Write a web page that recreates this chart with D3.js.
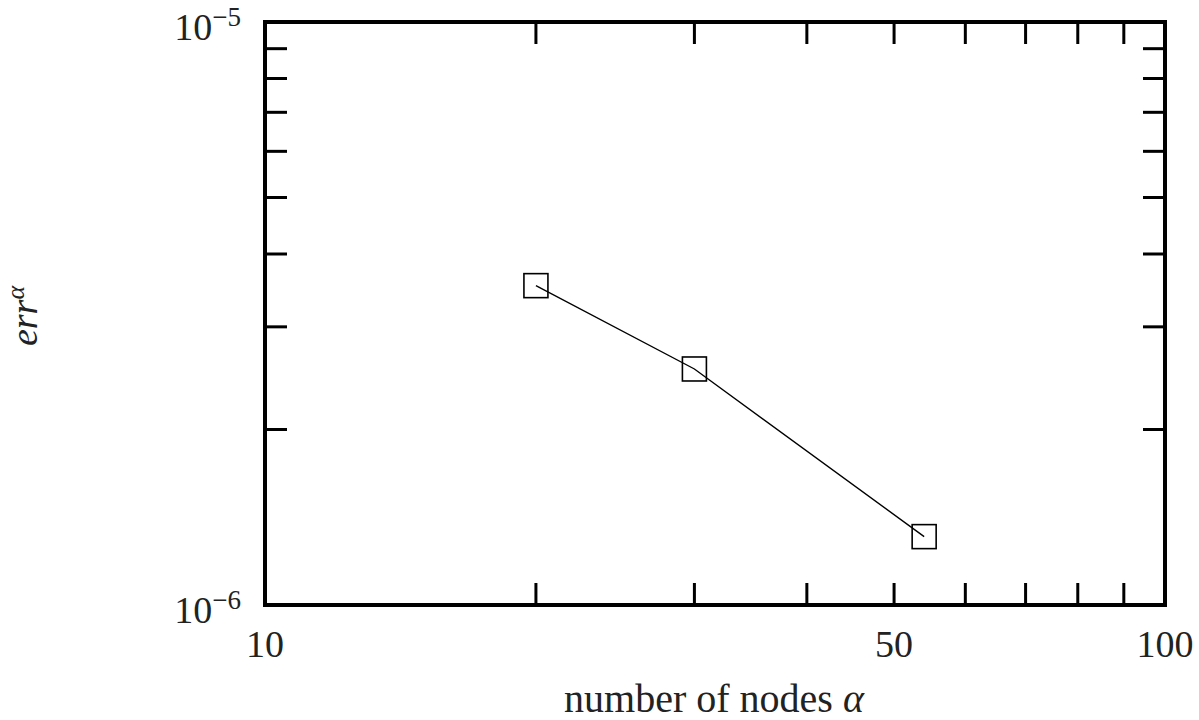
<!DOCTYPE html>
<html>
<head>
<meta charset="utf-8">
<script src="https://cdn.jsdelivr.net/npm/d3@7"></script>
<style>
  body { margin: 0; background: #fff; }
  text { font-family: "Liberation Serif", "DejaVu Serif", serif; fill: #222; }
</style>
</head>
<body>
<div id="chart"></div>
<script>
// data
var nodes = [20, 30, 54];
var errs = [3.53e-6, 2.54e-6, 1.31e-6];
var xMinor = [20, 30, 40, 50, 60, 70, 80, 90];
var yMinor = [2e-6, 3e-6, 4e-6, 5e-6, 6e-6, 7e-6, 8e-6, 9e-6];
var xLabels = [10, 50, 100];
var yLabels = [{v: 1e-6, e: "\u22126"}, {v: 1e-5, e: "\u22125"}];

function errChart() {
	var width = 1199, height = 720;
	var pLeft = 265, pRight = 1165, pTop = 22, pBottom = 605;
	var tick = 22;

	var svg = d3.select("#chart").append("svg")
		.attr("width", width)
		.attr("height", height);

	var x = d3.scaleLog().domain([10, 100]).range([pLeft, pRight]);
	var y = d3.scaleLog().domain([1e-6, 1e-5]).range([pBottom, pTop]);

	// ticks, inward on all four sides
	var tk = svg.append("g").attr("stroke", "#000").attr("stroke-width", 3);
	xMinor.forEach(function(v) {
		tk.append("line").attr("x1", x(v)).attr("x2", x(v)).attr("y1", pBottom).attr("y2", pBottom - tick);
		tk.append("line").attr("x1", x(v)).attr("x2", x(v)).attr("y1", pTop).attr("y2", pTop + tick);
	});
	yMinor.forEach(function(v) {
		tk.append("line").attr("y1", y(v)).attr("y2", y(v)).attr("x1", pLeft).attr("x2", pLeft + tick);
		tk.append("line").attr("y1", y(v)).attr("y2", y(v)).attr("x1", pRight).attr("x2", pRight - tick);
	});

	// frame
	svg.append("rect")
		.attr("x", pLeft).attr("y", pTop)
		.attr("width", pRight - pLeft).attr("height", pBottom - pTop)
		.attr("fill", "none").attr("stroke", "#000").attr("stroke-width", 4);

	// tick labels
	svg.selectAll(".xl").data(xLabels).enter().append("text")
		.attr("x", function(d) { return x(d); })
		.attr("y", pBottom + 52)
		.attr("text-anchor", "middle")
		.attr("font-size", 38)
		.text(function(d) { return d; });

	yLabels.forEach(function(d) {
		var t = svg.append("text")
			.attr("x", pLeft - 24)
			.attr("y", y(d.v) + 18)
			.attr("text-anchor", "end")
			.attr("font-size", 38);
		t.append("tspan").text("10");
		t.append("tspan").attr("dy", -14).attr("font-size", 27).text(d.e);
	});

	// axis titles
	var xt = svg.append("text")
		.attr("x", 714).attr("y", 712)
		.attr("text-anchor", "middle")
		.attr("font-size", 40);
	xt.append("tspan").text("number of nodes ");
	xt.append("tspan").attr("font-style", "italic").text("\u03b1");

	var yt = svg.append("text")
		.attr("transform", "translate(37,316) rotate(-90)")
		.attr("text-anchor", "middle")
		.attr("font-size", 38);
	yt.append("tspan").attr("font-style", "italic").text("err");
	yt.append("tspan").attr("font-style", "italic").attr("dy", -13).attr("font-size", 26).text("\u03b1");

	// series
	var pts = nodes.map(function(n, i) { return [n, errs[i]]; });
	var line = d3.line().x(function(d) { return x(d[0]); }).y(function(d) { return y(d[1]); });

	svg.append("path")
		.datum(pts)
		.attr("d", line)
		.attr("fill", "none")
		.attr("stroke", "#000")
		.attr("stroke-width", 1.4);

	svg.selectAll(".pt").data(pts).enter().append("rect")
		.attr("x", function(d) { return x(d[0]) - 12; })
		.attr("y", function(d) { return y(d[1]) - 12; })
		.attr("width", 24).attr("height", 24)
		.attr("fill", "none")
		.attr("stroke", "#000")
		.attr("stroke-width", 1.6);
}

errChart();
</script>
</body>
</html>
